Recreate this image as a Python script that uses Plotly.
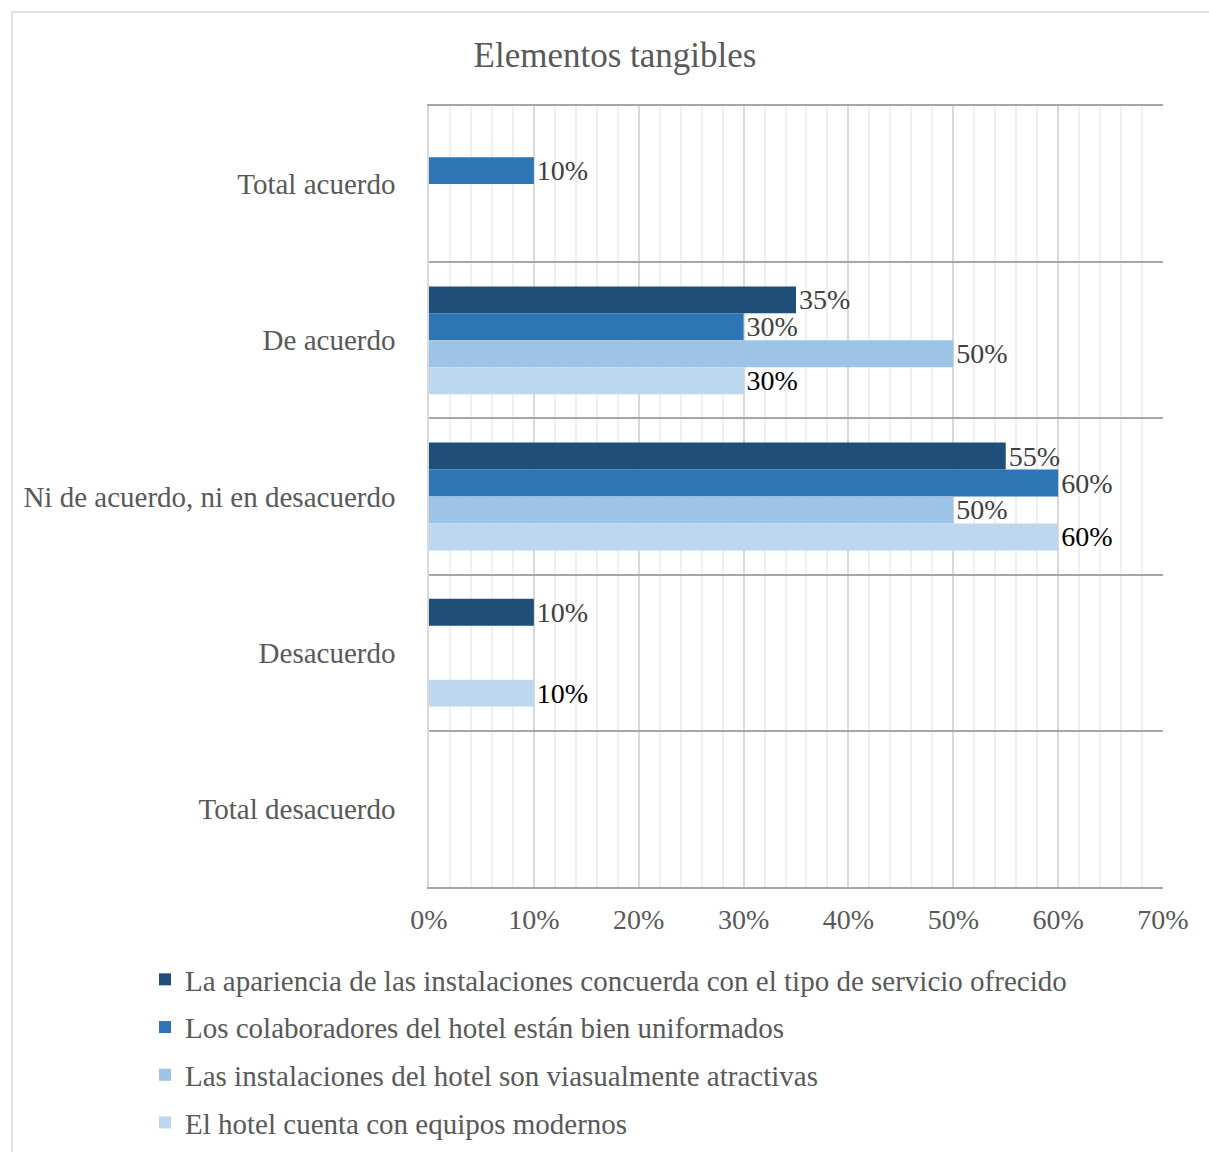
import plotly.graph_objects as go

categories = ["Total acuerdo", "De acuerdo", "Ni de acuerdo, ni en desacuerdo", "Desacuerdo", "Total desacuerdo"]
series_names = [
    "La apariencia de las instalaciones concuerda con el tipo de servicio ofrecido",
    "Los colaboradores del hotel están bien uniformados",
    "Las instalaciones del hotel son viasualmente atractivas",
    "El hotel cuenta con equipos modernos",
]
apariencia = [None, 35, 55, 10, None]
colaboradores = [10, 30, 60, None, None]
instalaciones = [None, 50, 50, None, None]
equipos = [None, 30, 60, 10, None]
series_values = [apariencia, colaboradores, instalaciones, equipos]
colors = ["#1f4e79", "#2e75b6", "#9dc3e6", "#bdd7ee"]
label_colors = ["#404040", "#404040", "#404040", "#000000"]
x_ticks = [0, 10, 20, 30, 40, 50, 60, 70]
x_tick_labels = [f"{v}%" for v in x_ticks]

FONT = "Liberation Serif, Times New Roman, serif"

fig = go.Figure()
for i, (name, vals) in enumerate(zip(series_names, series_values)):
    fig.add_trace(go.Bar(
        y=categories, x=vals, name=name, orientation="h",
        marker=dict(color=colors[i], line=dict(width=0)),
        text=[f"{v}%" if v is not None else "" for v in vals],
        textposition="outside", constraintext="none", cliponaxis=False,
        textfont=dict(family=FONT, size=28, color=label_colors[i]),
        legendgroup=f"g{i}",
        hoverinfo="skip",
    ))

fig.update_layout(
    width=1209, height=1152,
    margin=dict(l=429, r=46, t=106, b=265, autoexpand=False),
    paper_bgcolor="white", plot_bgcolor="white",
    barmode="group", bargap=0.31, bargroupgap=0,
    font=dict(family=FONT, color="#595959", size=29),
    title=dict(text="Elementos tangibles", x=615/1209, xref="container", xanchor="center",
               y=1-55/1152, yref="container", yanchor="middle",
               font=dict(family=FONT, size=35, color="#595959")),
    xaxis=dict(range=[0, 70], tickvals=x_ticks, ticktext=x_tick_labels,
               showgrid=True, gridcolor="#d9d9d9", gridwidth=1.5,
               minor=dict(dtick=2, showgrid=True, gridcolor="#f0f0f0", gridwidth=1.5),
               showline=True, linecolor="#a6a6a6", linewidth=2, mirror=True,
               zeroline=False, ticks="", ticklabelstandoff=6,
               tickfont=dict(family=FONT, size=28, color="#595959")),
    yaxis=dict(type="category", categoryorder="array", categoryarray=categories,
               range=[4.5, -0.5], tickson="boundaries",
               showgrid=True, gridcolor="#a6a6a6", gridwidth=1.5,
               showline=True, linecolor="#d9d9d9", linewidth=1.5,
               ticks="", ticklabelstandoff=26,
               tickfont=dict(family=FONT, size=29, color="#595959")),
    yaxis2=dict(overlaying="y", range=[4.5, -0.5], tickvals=[0, 1, 2, 3, 4],
                showticklabels=False, showgrid=True, gridcolor="#f0f0f0", gridwidth=1.5,
                zeroline=False, showline=False, ticks=""),
    legend=dict(x=(145-429)/734, xanchor="left", y=(887-954)/781, yanchor="top",
                orientation="v", traceorder="grouped", tracegroupgap=7,
                font=dict(family=FONT, size=29, color="#595959"),
                bgcolor="rgba(0,0,0,0)"),
    showlegend=True,
)
fig.add_shape(type="rect", xref="paper", yref="paper",
              x0=(12-429)/734, x1=(1215-429)/734, y0=-0.5, y1=(887-12)/781,
              line=dict(color="#d9d9d9", width=1.5), fillcolor="rgba(0,0,0,0)", layer="below")

fig.write_html("out.html")
